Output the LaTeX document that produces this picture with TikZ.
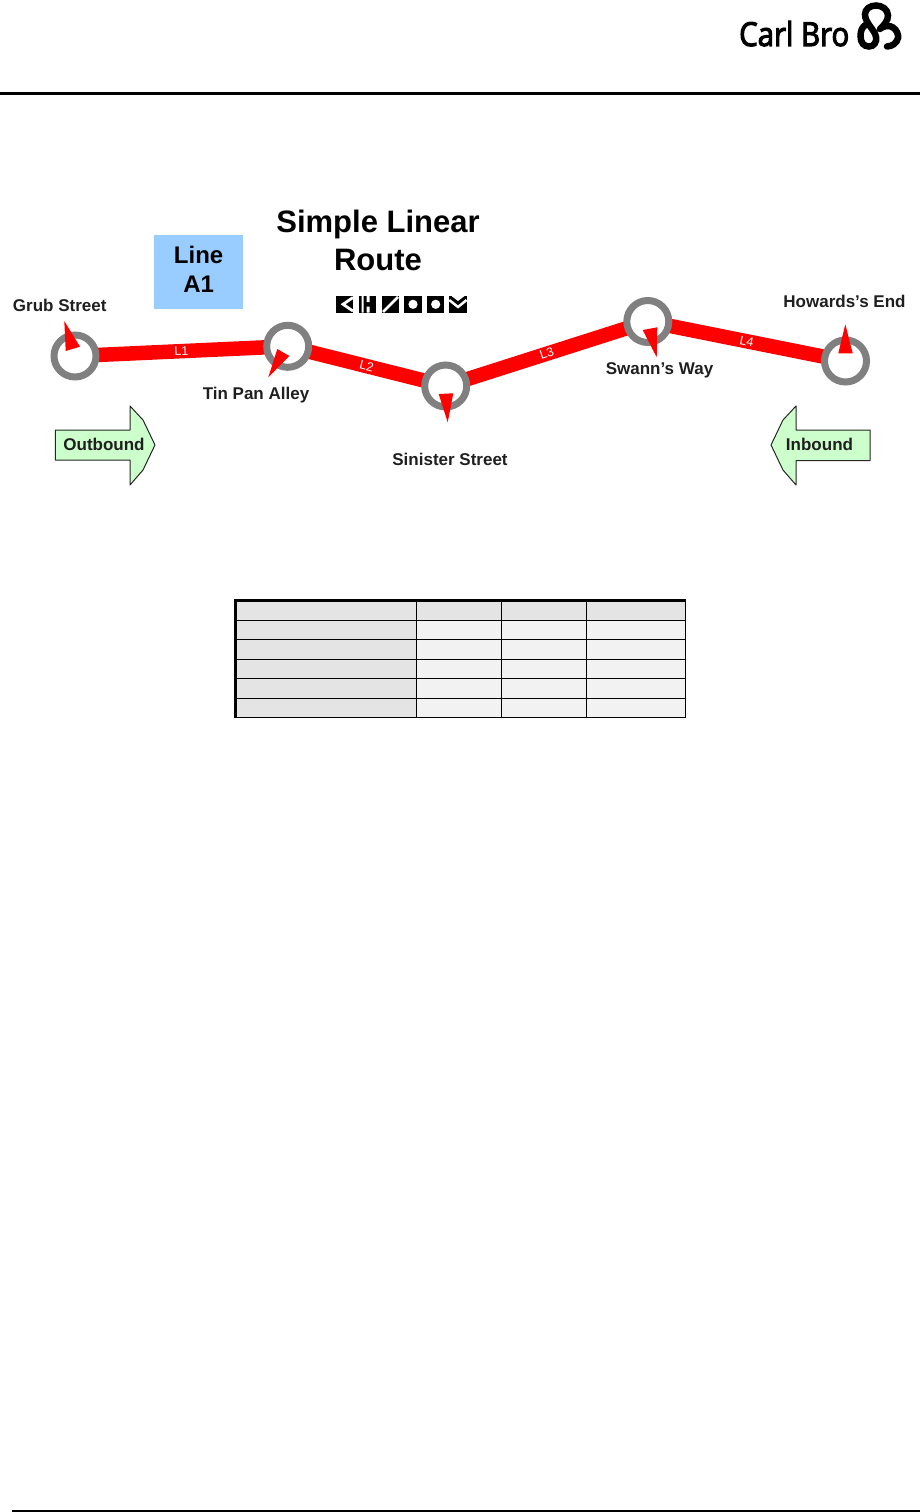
\documentclass[tikz,border=0pt]{standalone}
\usepackage{fontspec}
\setmainfont{Liberation Sans}
\newfontfamily\logofont[FakeBold=3.5]{Open Sans}
\usetikzlibrary{backgrounds}

\definecolor{routered}{HTML}{FF0000}
\definecolor{ringgray}{HTML}{808080}
\definecolor{lineblue}{HTML}{99CCFF}
\definecolor{arrowgreen}{HTML}{CCFFCC}
\definecolor{headgray}{HTML}{E4E4E4}
\definecolor{cellgray}{HTML}{F2F2F2}

\tikzset{
    stop/.style={circle,draw=ringgray,fill=white,line width=7pt,minimum size=42pt,inner sep=0pt,outer sep=0pt},
    leg/.style={draw=routered,line width=14.5pt},
    leglabel/.style={text=white,font=\fontsize{12.5}{12.5}\selectfont,sloped,midway,inner sep=0pt},
    stopname/.style={font=\bfseries\fontsize{17}{17}\selectfont,text=black!88,inner sep=0pt},
    pointer/.style={fill=routered},
    dirarrow/.style={draw=black!85,fill=arrowgreen,line width=1pt,line join=round},
    glyphbox/.style={fill=black},
    rule/.style={line width=3pt,draw=black},
    logostroke/.style={line width=6.5pt,line cap=round}
}

\begin{document}
\begin{tikzpicture}[x=1pt,y=-1pt]
    \useasboundingbox (0,0) rectangle (920,1512);

    % page furniture
    \node[font=\logofont\fontsize{33}{33}\selectfont,xscale=0.89,anchor=base west,inner sep=0pt] (logotext) at (739,46) {Carl Bro};
    \coordinate (ruletopl) at (0,93);
    \coordinate (ruletopr) at (920,93);
    \coordinate (rulebotl) at (12,1511);
    \coordinate (rulebotr) at (920,1511);
    \draw[rule] (ruletopl) -- (ruletopr);
    \draw[line width=2pt] (rulebotl) -- (rulebotr);
    \draw[logostroke] (866,24.5) .. controls (862,27) and (860.5,31) .. (860.5,36) .. controls (860.5,43) and (864,46.5) .. (869,46.5)
        .. controls (874,46.5) and (877,42) .. (876,37) .. controls (875,30) and (865,23) .. (865,14.5)
        .. controls (865,9) and (870,5.5) .. (876,5.5) .. controls (882,5.5) and (888,9.5) .. (888,15.5)
        .. controls (888,21) and (884,25) .. (880,29);
    \draw[logostroke] (882,27.5) .. controls (886,25.5) and (890,25.5) .. (893,27.5) .. controls (897,30) and (898.5,35) .. (898,38)
        .. controls (897,43) and (892,46.5) .. (887,46.5);

    % title block
    \node[fill=lineblue,minimum width=88.7pt,minimum height=74.3pt,inner sep=0pt] (linebox) at (198.6,271.8) {};
    \node[align=center,font=\bfseries\fontsize{24}{29}\selectfont,inner sep=0pt] (linelabel) at (198.6,269.5) {Line\\A1};
    \node[align=center,font=\bfseries\fontsize{31}{38}\selectfont,inner sep=0pt] (title) at (378,240.5) {Simple Linear\\Route};

    % glyph row
    \foreach \gx in {336,358.7,381.7,404.3,427,449.3}
        \fill[glyphbox] (\gx,296) rectangle +(17.3,16.7);
    \draw[white,line width=2.8pt] (353,297.5) -- (343,304.3) -- (353,311);
    \fill[white] (361.5,296) rectangle (363.5,312.7) (366.5,296) rectangle (369.5,302) (366.5,306.5) rectangle (369.5,312.7);
    \draw[white,line width=2.5pt] (383,312) -- (398,297);
    \fill[white] (413,304.3) circle (4.6) (435.7,304.3) circle (4.6);
    \fill[white] (451.5,296) -- (458,301) -- (464.5,296) -- cycle;
    \draw[white,line width=2.5pt] (449.3,300) -- (458,307) -- (466.6,300);

    % stops
    \node[stop] (grub) at (75,356) {};
    \node[stop] (tinpan) at (287.7,346.3) {};
    \node[stop] (sinister) at (445.7,386) {};
    \node[stop] (swann) at (647.8,321.5) {};
    \node[stop] (howards) at (845.5,361) {};

    \begin{scope}[on background layer]
        \draw[leg] (grub) -- node[leglabel] {L1} (tinpan);
        \draw[leg] (tinpan) -- node[leglabel] {L2} (sinister);
        \draw[leg] (sinister) -- node[leglabel] {L3} (swann);
        \draw[leg] (swann) -- node[leglabel] {L4} (howards);
    \end{scope}

    % pointers
    \fill[pointer] (64.3,321) -- (80,346.7) -- (65.7,351) -- cycle;
    \fill[pointer] (268.3,377.3) -- (289.3,356) -- (277.3,349) -- cycle;
    \fill[pointer] (447.7,422.3) -- (438.7,394) -- (453.3,393.3) -- cycle;
    \fill[pointer] (656.7,357.3) -- (642.7,330) -- (657.3,327.3) -- cycle;
    \fill[pointer] (845.3,324.3) -- (838.3,353.3) -- (852.7,353.3) -- cycle;

    \node[stopname] (grubname) at (59.7,305) {Grub Street};
    \node[stopname] (tinpanname) at (256,395) {Tin Pan Alley};
    \node[stopname] (sinistername) at (450,459) {Sinister Street};
    \node[stopname] (swannname) at (659.5,370) {Swann’s Way};
    \node[stopname] (howardsname) at (844.5,301) {Howards’s End};

    % direction arrows
    \draw[dirarrow] (55.3,430) -- (130,430) -- (130,406) -- (143,420) -- (155,445)
        -- (143,470) -- (130,485) -- (130,460) -- (55.3,460) -- cycle;
    \node[stopname] (outbound) at (104,444.5) {Outbound};
    \draw[dirarrow] (870,430) -- (796,430) -- (796,406) -- (783,420) -- (771,445)
        -- (783,470) -- (796,485) -- (796,460.7) -- (870,460.7) -- cycle;
    \node[stopname] (inbound) at (819.5,444.5) {Inbound};

    % empty table
    \fill[headgray] (234,599.5) rectangle (685.5,620.3);
    \fill[headgray] (234,620.3) rectangle (416.3,717.5);
    \fill[cellgray] (416.3,620.3) rectangle (685.5,717.5);
    \foreach \ty in {620.3,639.7,659.7,678.7,698.3,717.2}
        \draw[line width=1pt] (234,\ty) -- (686,\ty);
    \foreach \tx in {416.3,501.7,586.7,685.4}
        \draw[line width=1pt] (\tx,599.5) -- (\tx,717.7);
    \draw[line width=3pt] (235.3,717.7) -- (235.3,600.7) -- (686,600.7);
\end{tikzpicture}
\end{document}
